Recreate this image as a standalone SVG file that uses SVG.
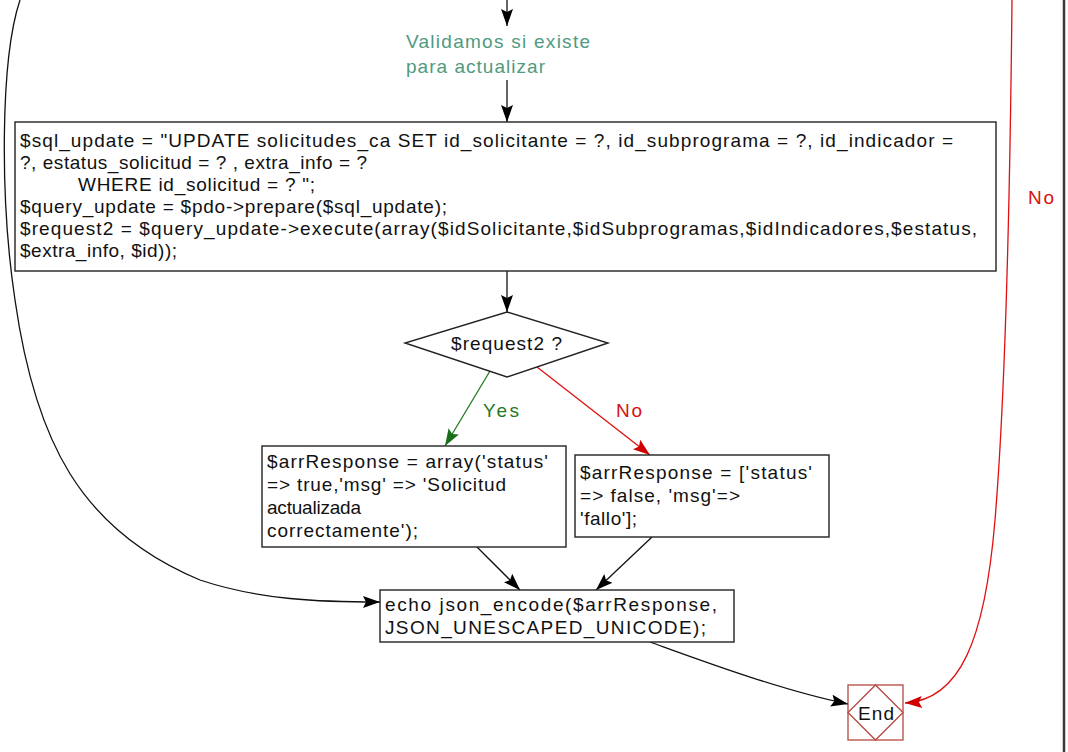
<svg xmlns="http://www.w3.org/2000/svg" width="1068" height="752" viewBox="0 0 1068 752">
<style>
  text { font-family: "Liberation Sans", Arial, sans-serif; font-size: 19px; fill: #111; }
  .box { fill: #fff; stroke: #222; stroke-width: 1.4; }
  .edge { fill: none; stroke: #111; stroke-width: 1.3; }
  .yes { fill: none; stroke: #1f7a1f; stroke-width: 1.3; }
  .no { fill: none; stroke: #e01010; stroke-width: 1.3; }
  .lblYes { fill: #1f7a1f; }
  .lblNo { fill: #d81010; }
  .note { fill: #4f9a80; }
  .endshape { fill: #fff; stroke: #b5473f; stroke-width: 1.3; }
</style>
<defs>
  <marker id="ah" markerUnits="userSpaceOnUse" markerWidth="18" markerHeight="12" refX="17" refY="6" orient="auto">
    <path d="M0,0 L17,6 L0,12 L3,6 z" fill="#000"/>
  </marker>
  <marker id="ahg" markerUnits="userSpaceOnUse" markerWidth="18" markerHeight="12" refX="17" refY="6" orient="auto">
    <path d="M0,0 L17,6 L0,12 L3,6 z" fill="#1a6e1a"/>
  </marker>
  <marker id="ahr" markerUnits="userSpaceOnUse" markerWidth="18" markerHeight="12" refX="17" refY="6" orient="auto">
    <path d="M0,0 L17,6 L0,12 L3,6 z" fill="#d00000"/>
  </marker>
</defs>
<rect width="1068" height="752" fill="#fff"/>
<line x1="1064" y1="0" x2="1064" y2="752" stroke="#3a3a3a" stroke-width="2.5"/>

<g id="connectors">
  <line class="edge" x1="507" y1="0" x2="507" y2="26" marker-end="url(#ah)"/>
  <line class="edge" x1="507" y1="80" x2="507" y2="122" marker-end="url(#ah)"/>
  <line class="edge" x1="507" y1="271" x2="507" y2="312" marker-end="url(#ah)"/>
  <line class="yes" x1="490" y1="371" x2="445" y2="446" marker-end="url(#ahg)"/>
  <line class="no" x1="537" y1="367" x2="650" y2="455" marker-end="url(#ahr)"/>
  <line class="edge" x1="477" y1="547" x2="520" y2="590" marker-end="url(#ah)"/>
  <line class="edge" x1="652" y1="537" x2="596" y2="590" marker-end="url(#ah)"/>
  <path class="edge" d="M650,642 C700,660 780,690 848,704" marker-end="url(#ah)"/>
  <path class="edge" d="M20,0 C0,60 0,200 15,300 C35,440 80,530 200,580 C260,600 320,602 380,602" marker-end="url(#ah)"/>
  <path class="no" d="M1012,0 C1010,200 1005,400 995,520 C985,640 960,700 905,703" marker-end="url(#ahr)"/>
  <text class="note" x="406" y="48" textLength="184" lengthAdjust="spacing">Validamos si existe</text>
  <text class="note" x="406" y="73" textLength="139" lengthAdjust="spacing">para actualizar</text>
  <text class="lblYes" x="483" y="417" textLength="36" lengthAdjust="spacing">Yes</text>
  <text class="lblNo" x="616" y="417" textLength="26" lengthAdjust="spacing">No</text>
  <text class="lblNo" x="1028" y="204" textLength="26" lengthAdjust="spacing">No</text>
</g>

<g id="n-update">
  <rect class="box" x="15" y="122" width="981" height="149"/>
  <text x="20" y="147" textLength="933" lengthAdjust="spacing">$sql_update = "UPDATE solicitudes_ca SET id_solicitante = ?, id_subprograma = ?, id_indicador =</text>
  <text x="20" y="169" textLength="347" lengthAdjust="spacing">?, estatus_solicitud = ? , extra_info = ?</text>
  <text x="78" y="191" textLength="237" lengthAdjust="spacing">WHERE id_solicitud = ? ";</text>
  <text x="20" y="213" textLength="427" lengthAdjust="spacing">$query_update = $pdo-&gt;prepare($sql_update);</text>
  <text x="20" y="235" textLength="957" lengthAdjust="spacing">$request2 = $query_update-&gt;execute(array($idSolicitante,$idSubprogramas,$idIndicadores,$estatus,</text>
  <text x="20" y="257" textLength="157" lengthAdjust="spacing">$extra_info, $id));</text>
</g>

<g id="n-decision">
  <polygon class="box" points="507,312 608,343 507,377 405,343"/>
  <text x="451" y="350" textLength="111" lengthAdjust="spacing">$request2 ?</text>
</g>

<g id="n-yes">
  <rect class="box" x="262" y="446" width="304" height="101"/>
  <text x="267" y="468" textLength="281" lengthAdjust="spacing">$arrResponse = array('status'</text>
  <text x="267" y="491" textLength="239" lengthAdjust="spacing">=&gt; true,'msg' =&gt; 'Solicitud</text>
  <text x="267" y="514" textLength="94" lengthAdjust="spacing">actualizada</text>
  <text x="267" y="537" textLength="151" lengthAdjust="spacing">correctamente');</text>
</g>

<g id="n-no">
  <rect class="box" x="575" y="455" width="254" height="82"/>
  <text x="580" y="479" textLength="232" lengthAdjust="spacing">$arrResponse = ['status'</text>
  <text x="580" y="502" textLength="160" lengthAdjust="spacing">=&gt; false, 'msg'=&gt;</text>
  <text x="580" y="525" textLength="57" lengthAdjust="spacing">'fallo'];</text>
</g>

<g id="n-echo">
  <rect class="box" x="380" y="590" width="354" height="52"/>
  <text x="385" y="611" textLength="332" lengthAdjust="spacing">echo json_encode($arrResponse,</text>
  <text x="385" y="634" textLength="321" lengthAdjust="spacing">JSON_UNESCAPED_UNICODE);</text>
</g>

<g id="n-end">
  <rect class="endshape" x="848" y="685" width="55" height="55"/>
  <polygon class="endshape" points="875.5,685 903,712.5 875.5,740 848,712.5" fill="none"/>
  <text x="858" y="720" textLength="36" lengthAdjust="spacing">End</text>
</g>
</svg>
